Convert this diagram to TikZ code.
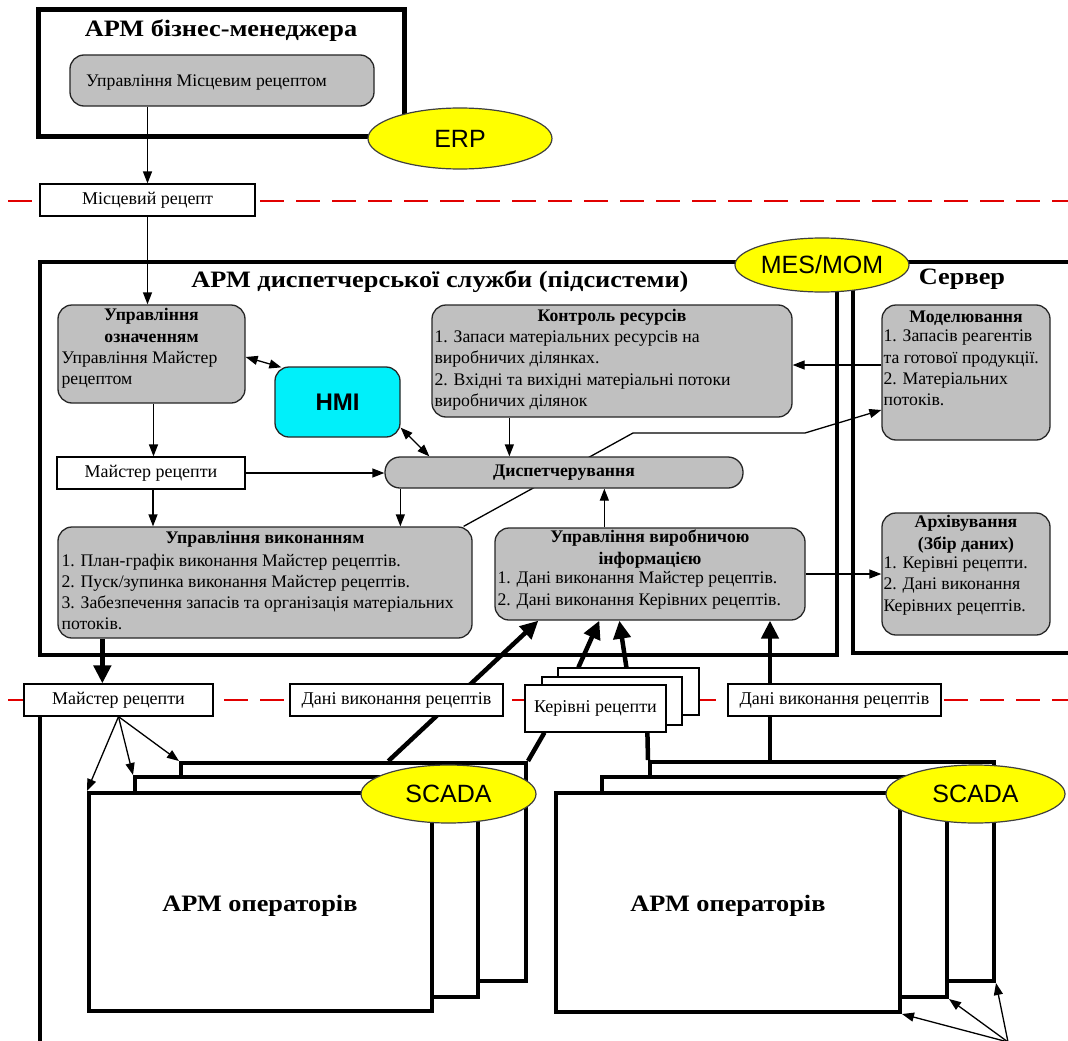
\documentclass[tikz,border=0pt]{standalone}
\usepackage{fontspec}
\setmainfont{Liberation Serif}
\newfontfamily\sansf{Liberation Sans}
\newfontfamily\titlefam{Liberation Serif}[FakeStretch=1.12]
\usetikzlibrary{arrows.meta,shapes.geometric,calc,backgrounds}

\definecolor{boxgray}{RGB}{192,192,192}
\definecolor{hmicyan}{RGB}{0,240,250}
\definecolor{ovalyellow}{RGB}{255,255,0}
\definecolor{sepred}{RGB}{225,0,0}

\newcommand\bodyf{\fontsize{17.7}{21.3}\selectfont}
\newcommand\lblf{\fontsize{18}{21}\selectfont}
\newcommand\titlef{\titlefam\fontsize{23.5}{27}\selectfont\bfseries}

% box from its corners: name, x1, y1, x2, y2, style, text
\newcommand\mkbox[7]{\node[#6, minimum width=#4pt-#2pt, minimum height=#5pt-#3pt] (#1) at ({(#2+#4)/2},{(#3+#5)/2}) {#7};}

\tikzset{
  frame/.style={draw, line width=4pt, inner sep=0},
  gbox/.style={draw=black!85, line width=1.3pt, fill=boxgray, rounded corners=14pt, inner sep=0},
  lbl/.style={draw, line width=1.2pt, fill=white, font=\lblf, inner sep=0},
  oval/.style={ellipse, draw=black!75, line width=1.2pt, fill=ovalyellow, inner sep=0,
    font=\sansf\fontsize{25}{29}\selectfont},
  opbox/.style={draw, line width=4pt, fill=white, inner sep=0},
  txt/.style={inner sep=0, font=\bodyf},
  hd/.style={txt, font=\bodyf\bfseries, align=center, anchor=north,
    execute at begin node=\strut, execute at end node=\strut},
  bd/.style={txt, align=left, anchor=north west,
    execute at begin node=\strut, execute at end node=\strut},
  flow/.style={line width=1.3pt, -{Triangle[length=12pt,width=9pt]}},
  flowboth/.style={line width=1.3pt, {Triangle[length=12pt,width=9pt]}-{Triangle[length=12pt,width=9pt]}},
  bigflow/.style={line width=4.5pt, -{Triangle[length=18pt,width=17pt]}},
  bigline/.style={line width=4.5pt},
  sep/.style={draw=sepred, line width=2.2pt, dash pattern=on 24pt off 12pt, dash phase=28pt},
}

\begin{document}
\begin{tikzpicture}[x=1pt,y=-1pt]
\useasboundingbox (0,0) rectangle (1068,1041);

% ---------- business manager workstation ----------
\mkbox{bm}{38}{10}{404}{136}{frame, line width=5pt}{}
\node[font=\titlef, anchor=base] (bm-t) at (221,37) {АРМ бізнес-менеджера};
\mkbox{lrm}{70}{55}{374}{106}{gbox}{}
\node[txt, anchor=base west] (lrm-t) at (86,86) {Управління Місцевим рецептом};
\mkbox{erp}{368}{108}{552}{169}{oval}{ERP}
\mkbox{lr}{40}{184}{255}{216}{lbl}{Місцевий рецепт}

% ---------- dispatcher workstation ----------
\mkbox{disp}{40}{262}{837}{655}{frame}{}
\node[font=\titlef, anchor=base] (disp-t) at (440,287) {АРМ диспетчерської служби (підсистеми)};
\mkbox{srv}{853}{262}{1095}{653}{frame}{}
\node[font=\titlef, anchor=base] (srv-t) at (962,284) {Сервер};
\mkbox{mes}{735}{238}{909}{292}{oval}{MES/MOM}

\mkbox{ozn}{58}{305}{245}{403}{gbox}{}
\node[hd] (ozn-h) at ([yshift=-4pt]ozn.north) {Управління\\означенням};
\node[bd, xshift=4pt, yshift=-2pt] (ozn-b) at (ozn-h.south -| ozn.west) {Управління Майстер\\рецептом};

\mkbox{hmi}{275}{367}{400}{437}{gbox, fill=hmicyan, font=\sansf\bfseries\fontsize{24}{28}\selectfont}{HMI}

\mkbox{kr}{432}{305}{792}{417}{gbox}{}
\node[hd] (kr-h) at ([yshift=-2.5pt]kr.north) {Контроль ресурсів};
\node[bd, xshift=3pt, yshift=-2pt] (kr-b) at (kr-h.south -| kr.west)
  {1. Запаси матеріальних ресурсів на\\виробничих ділянках.\\2. Вхідні та вихідні матеріальні потоки\\виробничих ділянок};

\mkbox{mr}{57}{457}{245}{489}{lbl}{Майстер рецепти}
\mkbox{dsp}{385}{457}{743}{488}{gbox, rounded corners=15pt, font=\bodyf\bfseries}{Диспетчерування}

\mkbox{uv}{58}{527}{472}{638}{gbox}{}
\node[hd] (uv-h) at ([yshift=-2.5pt]uv.north) {Управління виконанням};
\node[bd, xshift=4pt, yshift=-3pt] (uv-b) at (uv-h.south -| uv.west)
  {1. План-графік виконання Майстер рецептів.\\2. Пуск/зупинка виконання Майстер рецептів.\\3. Забезпечення запасів та організація матеріальних\\потоків.};

\mkbox{uvi}{495}{528}{805}{620}{gbox}{}
\node[hd] (uvi-h) at ([yshift=-2.5pt]uvi.north) {Управління виробничою\\інформацією};
\node[bd, xshift=3pt, yshift=-1pt] (uvi-b) at (uvi-h.south -| uvi.west)
  {1. Дані виконання Майстер рецептів.\\2. Дані виконання Керівних рецептів.};

\mkbox{mod}{882}{305}{1050}{440}{gbox}{}
\node[hd] (mod-h) at ([yshift=-3pt]mod.north) {Моделювання};
\node[bd, xshift=2pt, yshift=-1pt] (mod-b) at (mod-h.south -| mod.west)
  {1. Запасів реагентів\\та готової продукції.\\2. Матеріальних\\потоків.};

\mkbox{arch}{882}{513}{1050}{635}{gbox}{}
\node[hd] (arch-h) at ([yshift=-3pt]arch.north) {Архівування\\(Збір даних)};
\node[bd, xshift=2pt, yshift=-1pt] (arch-b) at (arch-h.south -| arch.west)
  {1. Керівні рецепти.\\2. Дані виконання\\Керівних рецептів.};

% ---------- data on the lower boundary ----------
\mkbox{mr2}{24}{684}{213}{716}{lbl}{Майстер рецепти}
\mkbox{dvr1}{290}{684}{503}{716}{lbl}{Дані виконання рецептів}
\mkbox{krb}{558}{668}{699}{715}{lbl}{}
\mkbox{krm}{542}{677}{682}{725}{lbl}{}
\mkbox{krf}{525}{685}{666}{732}{lbl}{Керівні рецепти}
\mkbox{dvr2}{728}{684}{941}{716}{lbl}{Дані виконання рецептів}

% ---------- operator workstations ----------
\mkbox{scl3}{181}{763}{526}{981}{opbox}{}
\mkbox{scl2}{135}{777}{478}{997}{opbox}{}
\mkbox{scl1}{89}{793}{432}{1011}{opbox}{}
\node[font=\titlef, anchor=base] (scl-t) at (260,911) {АРМ операторів};
\mkbox{sclo}{361}{765}{536}{823}{oval}{SCADA}

\mkbox{scr3}{650}{762}{994}{981}{opbox}{}
\mkbox{scr2}{602}{777}{947}{997}{opbox}{}
\mkbox{scr1}{556}{793}{900}{1012}{opbox}{}
\node[font=\titlef, anchor=base] (scr-t) at (728,911) {АРМ операторів};
\mkbox{scro}{886}{765}{1065}{823}{oval}{SCADA}

\coordinate (pageNW) at (0,0);
\coordinate (pageSE) at (1068,1041);
\coordinate (sepA1) at (0,201);
\coordinate (sepA2) at (1068,201);
\coordinate (sepB1) at (0,700);
\coordinate (sepB2) at (1068,700);
\coordinate (lowL) at (40,1045);
\coordinate (bendA) at (633,433);
\coordinate (bendB) at (805,433);
\coordinate (fan) at (1008,1042);

% ---------- connectors ----------
\begin{scope}[on background layer]
  \fill[white] (pageNW) rectangle (pageSE);
  \draw[sep] (sepA1) -- (sepA2);
  \draw[sep] (sepB1) -- (sepB2);
  \draw[line width=4pt] (mr2.south -| lowL) -- (lowL);

  \draw[flow] (lrm.south -| lr.north) -- (lr.north);
  \draw[flow] (lr.south) -- (lr.south |- ozn.north);
  \draw[flow] ([xshift=2pt]ozn.south) -- ([xshift=2pt]ozn.south |- mr.north);
  \draw[flow] ([xshift=2pt]mr.south) -- ([xshift=2pt]mr.south |- uv.north);
  \draw[flow] (mr.east) -- (mr.east -| dsp.west);
  \draw[flow] ([xshift=16pt]dsp.south west) -- ([xshift=16pt]dsp.south west |- uv.north);
  \draw[flow] ([xshift=78pt]kr.south west) -- ([xshift=78pt]kr.south west |- dsp.north);
  \draw[flow] ([xshift=110pt]uvi.north west) -- ([xshift=110pt]uvi.north west |- dsp.south);
  \draw[flow] ([yshift=7.5pt]mod.west) -- ([yshift=7.5pt]mod.west -| kr.east);
  \draw[flow] ([xshift=-9pt]uv.north east) -- (bendA) -- (bendB) -- ([yshift=-37.5pt]mod.west);
  \draw[flow] (uvi.east) -- (uvi.east -| arch.west);
  \draw[flowboth] ([yshift=-3pt]ozn.east) -- ([xshift=7pt,yshift=-1pt]hmi.north west);
  \draw[flowboth] ([yshift=10pt]hmi.south east) -- ([xshift=45pt]dsp.north west);

  \draw[bigflow] ([xshift=45pt]uv.south west) -- ([xshift=45pt]uv.south west |- mr2.north);
  \draw[flow] (mr2.south) -- (scl1.north west);
  \draw[flow] (mr2.south) -- (scl2.north west);
  \draw[flow] (mr2.south) -- (scl3.north west);

  \draw[bigflow] ($(scl3.north west)!0.6!(scl3.north east)$) -- ([xshift=44pt]uvi.south west);
  \draw[bigline] (scl3.north east) -- ([xshift=20pt]krf.south west);
  \draw[bigflow] ([xshift=21pt]krb.north west) -- ([xshift=105pt]uvi.south west);
  \draw[bigflow] ([xshift=69pt]krb.north west) -- ([xshift=125pt]uvi.south west);
  \draw[bigline] ([xshift=123pt]krf.south west) -- (scr3.north west);
  \draw[bigflow] ([xshift=122pt]scr3.north west) -- ([xshift=122pt]scr3.north west |- uvi.south);

  \draw[flow] (fan) -- (scr1.south east);
  \draw[flow] (fan) -- (scr2.south east);
  \draw[flow] (fan) -- (scr3.south east);
\end{scope}
\end{tikzpicture}
\end{document}
